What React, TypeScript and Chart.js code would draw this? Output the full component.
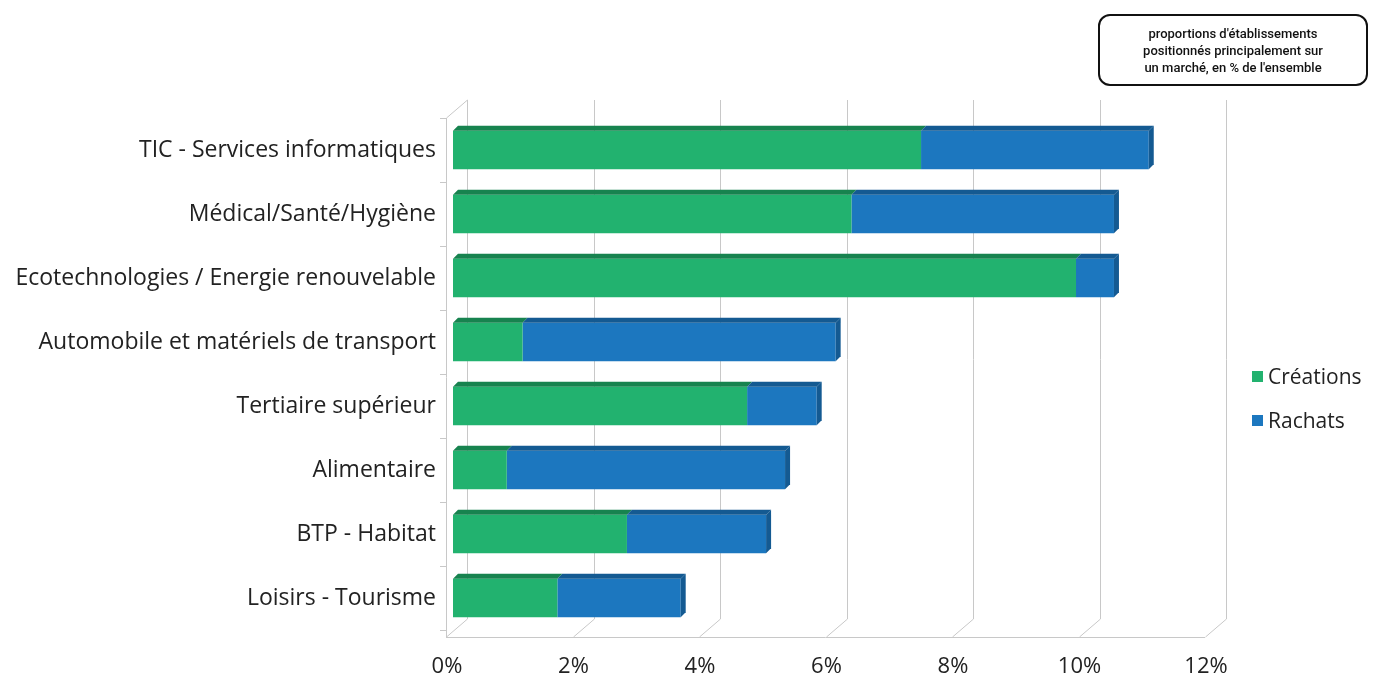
import React, { useEffect, useRef } from "react";
import { Chart, registerables } from "chart.js";

Chart.register(...registerables);

const categories = [
  "TIC - Services informatiques",
  "Médical/Santé/Hygiène",
  "Ecotechnologies / Energie renouvelable",
  "Automobile et matériels de transport",
  "Tertiaire supérieur",
  "Alimentaire",
  "BTP - Habitat",
  "Loisirs - Tourisme",
];
const creations = [7.4, 6.3, 9.85, 1.1, 4.65, 0.85, 2.75, 1.65];
const rachats = [3.6, 4.15, 0.6, 4.95, 1.1, 4.4, 2.2, 1.95];
const xTicks = [0, 2, 4, 6, 8, 10, 12];

const GREEN = "#22b26f";
const BLUE = "#1c77bf";
const GREEN_DARK = "#17834f";
const BLUE_DARK = "#145a92";
const GRID = "#c8c8c8";

const gridPlugin = {
  id: "grid3d",
  beforeDatasetsDraw(chart: any) {
    const ctx = chart.ctx;
    const xs = chart.scales.x;
    const ys = chart.scales.y;
    const top = 100;
    const floorY = 637;
    const back = 14;
    const front = -7;
    ctx.save();
    ctx.strokeStyle = GRID;
    ctx.lineWidth = 1;
    xTicks.forEach((v) => {
      const px = Math.round(xs.getPixelForValue(v)) + 0.5;
      ctx.beginPath();
      ctx.moveTo(px + back, top);
      ctx.lineTo(px + back, floorY - 18);
      ctx.lineTo(px + front, floorY);
      ctx.stroke();
    });
    const x0 = Math.round(xs.getPixelForValue(0)) + front;
    const x12 = Math.round(xs.getPixelForValue(12)) + front;
    ctx.beginPath();
    ctx.moveTo(x0, floorY + 0.5);
    ctx.lineTo(x12, floorY + 0.5);
    ctx.stroke();
    ctx.beginPath();
    ctx.moveTo(x0 + 0.5, floorY);
    ctx.lineTo(x0 + 0.5, top + 18);
    ctx.lineTo(x0 + back - front + 0.5, top);
    ctx.stroke();
    const n = categories.length;
    const step = ys.getPixelForValue(1) - ys.getPixelForValue(0);
    for (let i = 0; i <= n; i++) {
      const y = ys.getPixelForValue(0) - step / 2 + i * step;
      const yy = Math.round(y) + 0.5;
      ctx.beginPath();
      ctx.moveTo(x0 - 6, yy);
      ctx.lineTo(x0, yy);
      ctx.stroke();
    }
    ctx.restore();
  },
  afterDatasetsDraw(chart: any) {
    const ctx = chart.ctx;
    const d = 5;
    const darks = [GREEN_DARK, BLUE_DARK];
    chart.data.datasets.forEach((ds: any, di: number) => {
      const meta = chart.getDatasetMeta(di);
      meta.data.forEach((bar: any) => {
        const p = bar.getProps(["x", "y", "base", "height"], true);
        const x0 = Math.min(p.base, p.x);
        const x1 = Math.max(p.base, p.x);
        const top = p.y - p.height / 2;
        const bot = p.y + p.height / 2;
        ctx.save();
        ctx.fillStyle = darks[di];
        ctx.beginPath();
        ctx.moveTo(x0, top);
        ctx.lineTo(x0 + d, top - d);
        ctx.lineTo(x1 + d, top - d);
        ctx.lineTo(x1, top);
        ctx.closePath();
        ctx.fill();
        if (di === chart.data.datasets.length - 1) {
          ctx.beginPath();
          ctx.moveTo(x1, top);
          ctx.lineTo(x1 + d, top - d);
          ctx.lineTo(x1 + d, bot - d);
          ctx.lineTo(x1, bot);
          ctx.closePath();
          ctx.fill();
        }
        ctx.restore();
      });
    });
  },
};

export default function App() {
  const ref = useRef<HTMLCanvasElement | null>(null);
  useEffect(() => {
    if (!ref.current) return;
    const chart = new Chart(ref.current, {
      type: "bar",
      data: {
        labels: categories,
        datasets: [
          { label: "Créations", data: creations, backgroundColor: GREEN, barPercentage: 0.6, categoryPercentage: 1 },
          { label: "Rachats", data: rachats, backgroundColor: BLUE, barPercentage: 0.6, categoryPercentage: 1 },
        ],
      },
      options: {
        indexAxis: "y",
        animation: false,
        responsive: false,
        maintainAspectRatio: false,
        layout: { padding: { left: 8, top: 118, right: 161, bottom: 0 } },
        plugins: { legend: { display: false }, tooltip: { enabled: false } },
        scales: {
          x: {
            stacked: true,
            min: 0,
            max: 12,
            afterBuildTicks: (s: any) => {
              s.ticks = xTicks.map((v) => ({ value: v }));
            },
            afterFit: (s: any) => {
              s.height = 51;
            },
            ticks: {
              callback: (v: any) => v + "%",
              color: "#222",
              font: { family: "Open Sans", size: 22 },
              padding: 16,
              labelOffset: -6,
            },
            grid: { display: false },
            border: { display: false },
          },
          y: {
            stacked: true,
            afterFit: (s: any) => {
              s.width = 445;
            },
            ticks: {
              color: "#222",
              font: { family: "Open Sans", size: 23 },
              padding: 9,
            },
            grid: { display: false },
            border: { display: false },
          },
        },
      },
      plugins: [gridPlugin],
    });
    return () => chart.destroy();
  }, []);

  return (
    <div style={{ position: "fixed", left: 0, top: 0, width: 1373, height: 681, background: "#fff", fontFamily: "Open Sans", overflow: "hidden" }}>
      <canvas ref={ref} width={1373} height={681} style={{ position: "absolute", left: 0, top: 0 }} />
      <div
        style={{
          position: "absolute",
          left: 1098,
          top: 14,
          width: 266,
          height: 68,
          border: "2px solid #111",
          borderRadius: 12,
          fontFamily: "Roboto",
          fontWeight: 500,
          fontSize: 13,
          lineHeight: "17px",
          textAlign: "center",
          color: "#111",
          display: "flex",
          alignItems: "center",
          justifyContent: "center",
        }}
      >
        <div>
          proportions d'établissements
          <br />
          positionnés principalement sur
          <br />
          un marché, en % de l'ensemble
        </div>
      </div>
      <div style={{ position: "absolute", left: 1252, top: 354, fontSize: 21, color: "#222", lineHeight: "44px", whiteSpace: "nowrap" }}>
        <div style={{ display: "flex", alignItems: "center" }}>
          <span style={{ display: "inline-block", width: 11, height: 11, background: GREEN, marginRight: 5 }} />
          Créations
        </div>
        <div style={{ display: "flex", alignItems: "center" }}>
          <span style={{ display: "inline-block", width: 11, height: 11, background: BLUE, marginRight: 5 }} />
          Rachats
        </div>
      </div>
    </div>
  );
}
